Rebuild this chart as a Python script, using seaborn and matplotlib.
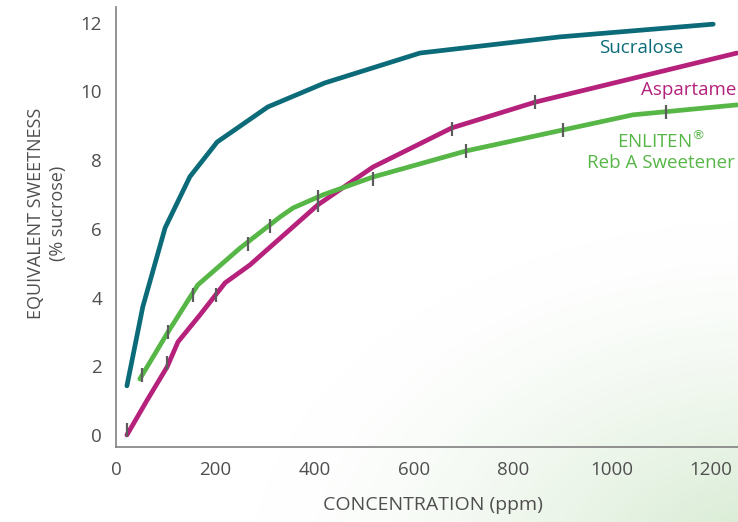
import numpy as np
import pandas as pd
import seaborn as sns
import matplotlib.pyplot as plt

# Values
sucralose_x = [22, 54, 99, 149, 204, 306, 421, 613, 895, 1204]
sucralose_y = [1.43, 3.73, 6.03, 7.52, 8.53, 9.55, 10.25, 11.12, 11.59, 11.96]

aspartame_x = [22, 63, 103, 125, 169, 220, 270, 407, 518, 677, 845, 1252]
aspartame_y = [0.0, 1.02, 1.98, 2.71, 3.49, 4.43, 4.95, 6.70, 7.80, 8.94, 9.69, 11.12]

enliten_x = [48, 105, 165, 250, 331, 357, 417, 518, 706, 901, 1042, 1252]
enliten_y = [1.63, 3.0, 4.37, 5.44, 6.35, 6.61, 6.99, 7.51, 8.27, 8.88, 9.32, 9.61]

# error bar points
aspartame_err_x = [22, 103, 202, 407, 677, 845]
aspartame_err_y = [0.15, 2.10, 4.08, 6.70, 8.91, 9.69]
enliten_err_x = [52, 105, 155, 266, 310, 407, 518, 706, 901, 1109]
enliten_err_y = [1.75, 3.0, 4.08, 5.57, 6.08, 6.93, 7.45, 8.27, 8.88, 9.40]
err_size = 0.2

x_ticks = [0, 200, 400, 600, 800, 1000, 1200]
y_ticks = [0, 2, 4, 6, 8, 10, 12]

colors = {"Sucralose": "#0b6b78", "Aspartame": "#b5217b", "ENLITEN": "#56b646"}

sns.set_style("white")
plt.rcParams['font.family'] = ['Open Sans', 'DejaVu Sans']

rows = []
for name, xs, ys in [("Sucralose", sucralose_x, sucralose_y),
                     ("Aspartame", aspartame_x, aspartame_y),
                     ("ENLITEN", enliten_x, enliten_y)]:
    for a, b in zip(xs, ys):
        rows.append([name, a, b])
df = pd.DataFrame(rows, columns=["sweetener", "conc", "sweet"])

fig = plt.figure(figsize=(7.38, 5.22), dpi=100)

## soft green glow in the lower right corner
bg = fig.add_axes([0, 0, 1, 1], zorder=0)
bg.axis('off')
H, W = 522, 738
yy, xx = np.mgrid[0:H, 0:W]
r = np.sqrt(((xx - 770) / 520.0) ** 2 + ((yy - 570) / 350.0) ** 2)
t = np.clip(1 - r, 0, 1) ** 1.5
green = np.array([0.82, 0.91, 0.80])
img = np.ones((H, W, 3)) * (1 - t[..., None]) + green * t[..., None]
bg.imshow(img, aspect='auto', extent=[0, 1, 0, 1])
bg.set_xlim(0, 1)
bg.set_ylim(0, 1)

ax = fig.add_axes([116 / 738, 75 / 522, 622 / 738, 440 / 522], zorder=1)
ax.patch.set_alpha(0)

sns.lineplot(data=df, x="conc", y="sweet", hue="sweetener",
             palette=colors, estimator=None, sort=False, legend=False,
             linewidth=3.4, solid_capstyle='round', ax=ax)
for ln in ax.lines:
    ln.set_clip_on(False)

ax.errorbar(aspartame_err_x, aspartame_err_y, yerr=err_size, fmt='none',
            ecolor='#5c5c5c', elinewidth=1.6, capsize=0, zorder=4)
ax.errorbar(enliten_err_x, enliten_err_y, yerr=err_size, fmt='none',
            ecolor='#5c5c5c', elinewidth=1.6, capsize=0, zorder=4)

ax.set_xlim(0, 1254)
ax.set_ylim(-0.35, 12.46)
ax.set_xticks(x_ticks)
ax.set_yticks(y_ticks)
ax.tick_params(direction='in', length=7.5, width=1.1, color='#808080',
               labelsize=13.5, labelcolor='#4f4f4f', pad=10)
ax.yaxis.get_major_ticks()[0].tick1line.set_visible(False)
ax.xaxis.get_major_ticks()[0].tick1line.set_visible(False)

sns.despine(ax=ax)
for s in ["left", "bottom"]:
    ax.spines[s].set_color('#808080')
    ax.spines[s].set_linewidth(1.2)

## labels
ax.set_xlabel("CONCENTRATION (ppm)", fontsize=14, color='#4f4f4f')
ax.xaxis.set_label_coords(0.51, -0.132)
ax.xaxis.label.set_va('center')
ax.set_ylabel("EQUIVALENT SWEETNESS\n(% sucrose)", fontsize=13, color='#4f4f4f',
              linespacing=1.35)
ax.yaxis.set_label_coords(-0.111, 0.53)
ax.yaxis.label.set_va('center')

ax.text(1058, 11.27, "Sucralose", color=colors["Sucralose"], fontsize=13.5,
        ha='center', va='center')
ax.text(1058, 10.04, "Aspartame", color=colors["Aspartame"], fontsize=13.5,
        ha='left', va='center', clip_on=False)
ax.text(1099, 8.27, "ENLITEN$^{\u00ae}$\nReb A Sweetener", color=colors["ENLITEN"],
        fontsize=13.5, ha='center', va='center', multialignment='center',
        linespacing=1.15, clip_on=False)

plt.savefig("out.png", dpi=100)
